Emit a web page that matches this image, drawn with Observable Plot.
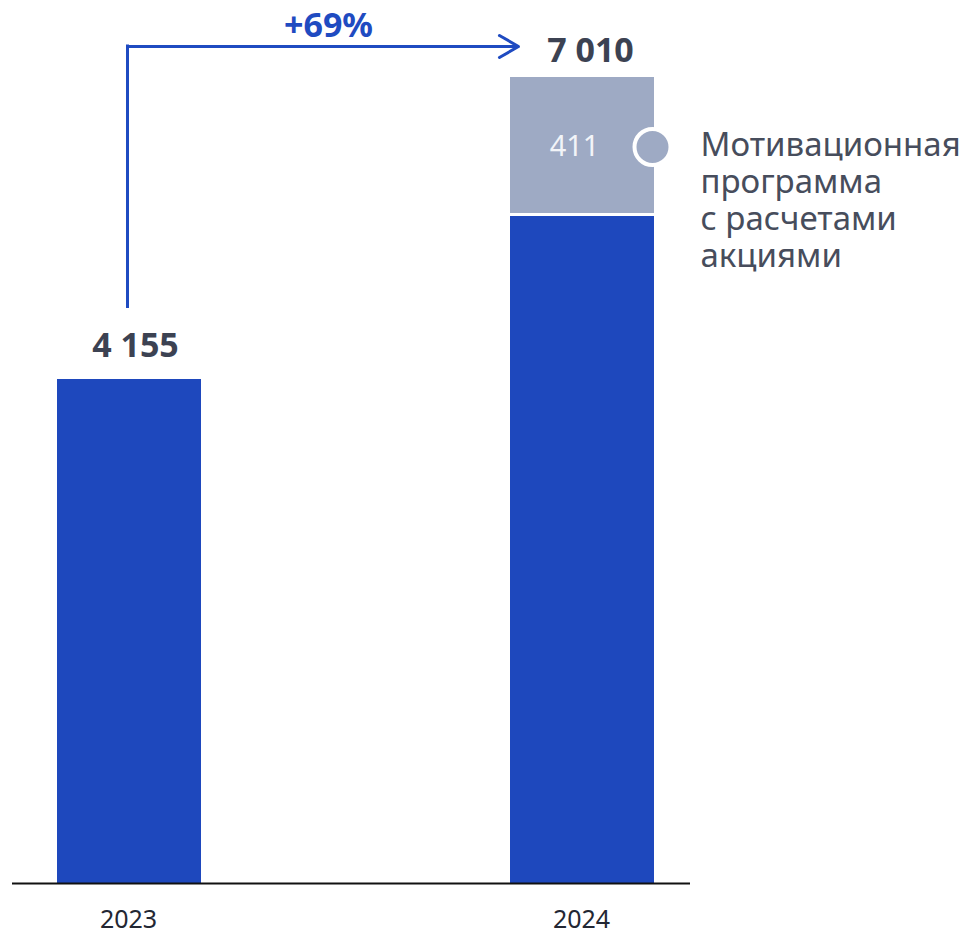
<!DOCTYPE html>
<html>
<head>
<meta charset="utf-8">
<script src="https://cdn.jsdelivr.net/npm/d3@7"></script>
<script src="https://cdn.jsdelivr.net/npm/@observablehq/plot@0.6"></script>
<style>
  html, body { margin: 0; padding: 0; background: #fff; }
  #chart svg { display: block; }
</style>
</head>
<body>
<div id="chart"></div>
<script>
const years = ["2023", "2024"];
const mainValues = [4155, 6599];
const motivationValues = [null, 411];
const totals = [4155, 7010];
const growthLabel = "+69%";
const legendLabel = "Мотивационная\nпрограмма\nс расчетами\nакциями";

const BLUE = "#1e48bd";
const GRAY = "#9eaac4";
const DARK = "#3c4252";
const ARROW = "#1f4bc1";
const FONT = "'Noto Sans', 'Open Sans', sans-serif";

const fmt = d3.formatLocale({decimal: ",", thousands: " ", grouping: [3], currency: ["", ""]}).format(",d");

// The reference is drawn not to scale: a piecewise transform reproduces its proportions.
const yWarp = d3.scaleLinear().domain([0, 4155, 6599, 7010]).range([0, 504, 667, 806]);

const mainRows = years.map((year, i) => ({year, value: mainValues[i]}));
const motRows = years.map((year, i) => ({year, base: mainValues[i], value: motivationValues[i]}))
  .filter(d => d.value != null)
  .map(d => ({...d, top: d.base + d.value, mid: d.base + d.value / 2}));
const totalRows = years.map((year, i) => ({year, total: totals[i], label: fmt(totals[i])}));

const chart = Plot.plot({
  width: 972,
  height: 936,
  marginLeft: 12,
  marginRight: 282,
  marginTop: 77,
  marginBottom: 53,
  style: {fontFamily: FONT, background: "#fff", overflow: "visible"},
  x: {domain: years, paddingInner: 0.683, paddingOuter: 0.0882, align: 0.55, axis: null},
  y: {transform: yWarp, axis: null},
  marks: [
    Plot.barY(mainRows, {x: "year", y: "value", fill: BLUE}),
    Plot.barY(motRows, {x: "year", y1: "base", y2: "top", fill: GRAY, insetBottom: 3}),
    Plot.ruleY([0], {stroke: "#111", strokeWidth: 2}),
    Plot.text(years, {x: d => d, y: () => 0, text: d => d, lineAnchor: "top", dx: -1, dy: 27, fontSize: 25, fill: "#232733"}),
    Plot.text(motRows, {x: "year", y: "mid", text: d => fmt(d.value), dx: -8, fontSize: 29, fill: "#f2f4f8"}),
    Plot.dot(motRows, {x: "year", y: "mid", dx: 70, r: 18, fill: GRAY, stroke: "#fff", strokeWidth: 4}),
    Plot.text(motRows, {x: "year", y: "mid", text: () => legendLabel, textAnchor: "start", lineAnchor: "top", dx: 118, dy: -17, fontSize: 33, lineHeight: 1.12, fill: "#474d5c"}),
    Plot.text(totalRows.filter(d => d.year === "2023"), {x: "year", y: "total", text: "label", lineAnchor: "bottom", dx: 6, dy: -23, fontSize: 34, fontWeight: "bold", fill: DARK}),
    Plot.text(totalRows.filter(d => d.year === "2024"), {x: "year", y: "total", text: "label", lineAnchor: "bottom", dx: 8, dy: -16, fontSize: 34, fontWeight: "bold", fill: DARK}),
    Plot.ruleX(totalRows.filter(d => d.year === "2023"), {x: "year", y1: () => totals[1], y2: "total", dx: -2, insetTop: -32.5, insetBottom: 71, stroke: ARROW, strokeWidth: 3}),
    Plot.arrow([{from: years[0], to: years[1], y: totals[1]}], {x1: "from", x2: "to", y1: "y", y2: "y", dx: -2, dy: -31, insetEnd: 62, stroke: ARROW, strokeWidth: 3, headLength: 11, headAngle: 60}),
    Plot.text([{from: years[0], y: totals[1], label: growthLabel}], {x: "from", y: "y", text: "label", textAnchor: "middle", lineAnchor: "bottom", dx: 199, dy: -41, fontSize: 34, fontWeight: "bold", fill: ARROW})
  ]
});
document.getElementById("chart").appendChild(chart);
</script>
</body>
</html>
